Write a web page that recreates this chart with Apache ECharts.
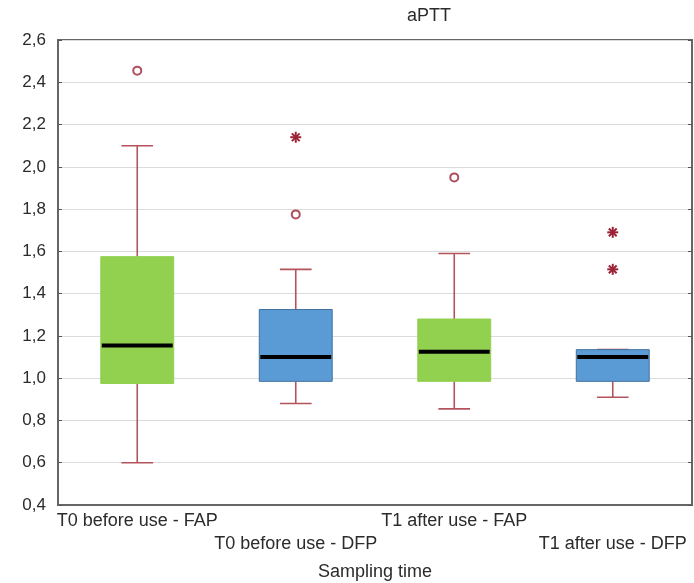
<!DOCTYPE html>
<html>
<head>
<meta charset="utf-8">
<script src="https://cdn.jsdelivr.net/npm/echarts@6/dist/echarts.min.js"></script>
<style>
  html, body { margin: 0; padding: 0; background: #fff; }
  #chart { width: 694px; height: 583px; }
</style>
</head>
<body>
<div id="chart"></div>
<script>
// aPTT by sampling time: box-and-whisker summaries
const categories = ['T0 before use - FAP', 'T0 before use - DFP', 'T1 after use - FAP', 'T1 after use - DFP'];
const lowerWhisker = [0.60, 0.88, 0.855, 0.91];
const q1 = [0.975, 0.985, 0.985, 0.985];
const median = [1.155, 1.10, 1.125, 1.10];
const q3 = [1.575, 1.325, 1.28, 1.135];
const upperWhisker = [2.10, 1.515, 1.59, 1.135];
const outliers = [[0, 2.455], [1, 1.775], [2, 1.95]];
const extremes = [[1, 2.14], [3, 1.69], [3, 1.515]];
const boxColors = ['#92d050', '#5b9bd5', '#92d050', '#5b9bd5'];
const boxBorders = ['#92d050', '#41719c', '#92d050', '#41719c'];
const yTicks = [0.4, 0.6, 0.8, 1.0, 1.2, 1.4, 1.6, 1.8, 2.0, 2.2, 2.4, 2.6];

const FONT = 'Liberation Sans, Arial, sans-serif';
const whiskerColor = '#b4535c';
const pointColor = '#9b2335';

const boxData = categories.map((c, i) => [i, lowerWhisker[i], q1[i], median[i], q3[i], upperWhisker[i]]);

const chart = echarts.init(document.getElementById('chart'));

function renderBox(params, api) {
  const i = api.value(0);
  const band = api.size([1, 0])[0];
  const boxW = band * 0.46;
  const capW = band * 0.2;
  const pLo = api.coord([i, api.value(1)]);
  const pQ1 = api.coord([i, api.value(2)]);
  const pMed = api.coord([i, api.value(3)]);
  const pQ3 = api.coord([i, api.value(4)]);
  const pHi = api.coord([i, api.value(5)]);
  const x = pQ1[0];
  const wStyle = { stroke: whiskerColor, lineWidth: 1.6 };
  return {
    type: 'group',
    children: [
      { type: 'line', shape: { x1: x, y1: pHi[1], x2: x, y2: pQ3[1] }, style: wStyle },
      { type: 'line', shape: { x1: x, y1: pQ1[1], x2: x, y2: pLo[1] }, style: wStyle },
      { type: 'line', shape: { x1: x - capW / 2, y1: pHi[1], x2: x + capW / 2, y2: pHi[1] }, style: wStyle },
      { type: 'line', shape: { x1: x - capW / 2, y1: pLo[1], x2: x + capW / 2, y2: pLo[1] }, style: wStyle },
      {
        type: 'rect',
        shape: { x: x - boxW / 2, y: pQ3[1], width: boxW, height: pQ1[1] - pQ3[1] },
        style: { fill: boxColors[i], stroke: boxBorders[i], lineWidth: 1 }
      },
      {
        type: 'line',
        shape: { x1: x - boxW / 2 + 1, y1: pMed[1], x2: x + boxW / 2 - 1, y2: pMed[1] },
        style: { stroke: '#000', lineWidth: 4 }
      }
    ]
  };
}

function renderStar(params, api) {
  const p = api.coord([api.value(0), api.value(1)]);
  const r = 5.5;
  const children = [];
  for (let k = 0; k < 4; k++) {
    const a = k * Math.PI / 4;
    children.push({
      type: 'line',
      shape: { x1: p[0] - r * Math.cos(a), y1: p[1] - r * Math.sin(a), x2: p[0] + r * Math.cos(a), y2: p[1] + r * Math.sin(a) },
      style: { stroke: pointColor, lineWidth: 2 }
    });
  }
  return { type: 'group', children };
}

chart.setOption({
  animation: false,
  backgroundColor: '#fff',
  graphic: [{
    type: 'text',
    left: 407,
    top: 7,
    style: { text: 'aPTT', font: '18px ' + FONT, fill: '#2b2b2b' }
  }],
  grid: {
    left: 58, right: 2, top: 40, bottom: 78,
    outerBoundsMode: 'none',
    containLabel: false,
    show: true, borderColor: '#666', borderWidth: 2, backgroundColor: 'transparent'
  },
  xAxis: [{
    type: 'category',
    data: categories,
    boundaryGap: true,
    axisLine: { lineStyle: { color: '#666', width: 2 } },
    axisTick: { inside: true, alignWithLabel: true, length: 4, lineStyle: { color: '#555' } },
    axisLabel: {
      interval: 0,
      margin: 5,
      color: '#2b2b2b',
      fontFamily: FONT,
      fontSize: 18,
      lineHeight: 23,
      formatter: (v, i) => (i % 2 === 1 ? '\n' + v : v)
    },
    name: 'Sampling time',
    nameLocation: 'middle',
    nameGap: 58,
    nameTextStyle: { color: '#2b2b2b', fontFamily: FONT, fontSize: 18 }
  }, {
    type: 'category',
    data: categories,
    position: 'top',
    axisLine: { show: false },
    axisTick: { inside: true, alignWithLabel: true, length: 4, lineStyle: { color: '#555' } },
    axisLabel: { show: false }
  }],
  yAxis: [{
    type: 'value',
    min: 0.4,
    max: 2.6,
    interval: 0.2,
    axisLine: { show: true, lineStyle: { color: '#666', width: 2 } },
    axisTick: { show: true, inside: true, length: 4, lineStyle: { color: '#555' } },
    splitLine: { show: true, lineStyle: { color: '#dcdcdc', width: 1 } },
    axisLabel: {
      margin: 12,
      color: '#2b2b2b',
      fontFamily: FONT,
      fontSize: 17,
      formatter: v => {
        const t = yTicks.find(k => Math.abs(k - v) < 1e-6);
        return (t !== undefined ? t : v).toFixed(1).replace('.', ',');
      }
    }
  }, {
    type: 'value',
    position: 'right',
    min: 0.4,
    max: 2.6,
    interval: 0.2,
    axisLine: { show: false },
    axisTick: { show: true, inside: true, length: 4, lineStyle: { color: '#555' } },
    splitLine: { show: false },
    axisLabel: { show: false }
  }],
  series: [
    {
      type: 'custom',
      renderItem: renderBox,
      encode: { x: 0, y: [1, 2, 3, 4, 5] },
      data: boxData,
      z: 3
    },
    {
      type: 'scatter',
      data: outliers,
      symbol: 'circle',
      symbolSize: 8,
      itemStyle: { color: '#fff', borderColor: pointColor, borderWidth: 2 },
      z: 4
    },
    {
      type: 'custom',
      renderItem: renderStar,
      encode: { x: 0, y: 1 },
      data: extremes,
      z: 4
    }
  ]
});
</script>
</body>
</html>
